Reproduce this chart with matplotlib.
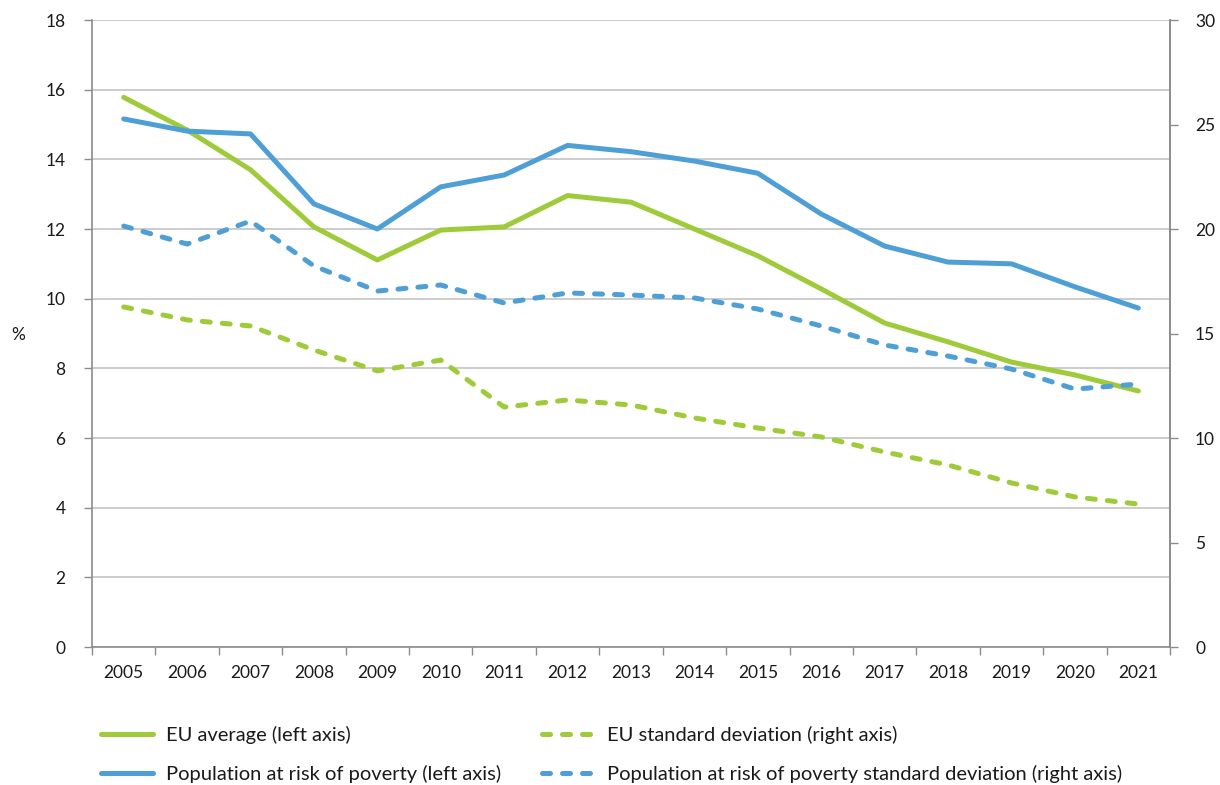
import matplotlib
matplotlib.use("Agg")
import matplotlib.pyplot as plt
import numpy as np

plt.rcParams['font.family'] = ['Lato', 'DejaVu Sans']

years = ["2005", "2006", "2007", "2008", "2009", "2010", "2011", "2012", "2013",
         "2014", "2015", "2016", "2017", "2018", "2019", "2020", "2021"]

# Left axis (%)
eu_average = [15.78, 14.84, 13.70, 12.06, 11.11, 11.97, 12.06, 12.96, 12.77,
              12.00, 11.23, 10.28, 9.30, 8.76, 8.18, 7.81, 7.35]
risk_poverty = [15.16, 14.81, 14.73, 12.72, 12.00, 13.21, 13.55, 14.40, 14.22,
                13.95, 13.60, 12.43, 11.51, 11.05, 11.00, 10.34, 9.73]

# Right axis (standard deviations)
eu_std = [16.27, 15.65, 15.36, 14.21, 13.21, 13.73, 11.48, 11.82, 11.58,
          10.96, 10.48, 10.05, 9.33, 8.71, 7.85, 7.18, 6.84]
risk_poverty_std = [20.14, 19.28, 20.38, 18.23, 17.03, 17.32, 16.46, 16.94, 16.84,
                    16.70, 16.17, 15.36, 14.45, 13.92, 13.30, 12.34, 12.58]

left_ticks = [0, 2, 4, 6, 8, 10, 12, 14, 16, 18]
right_ticks = [0, 5, 10, 15, 20, 25, 30]

GREEN = "#9fca3a"
BLUE = "#4f9fd7"
GRID = "#c4c4c4"
SPINE = "#8c8c8c"
TEXT = "#1a1a1a"
TICK_FS = 12.5
LEG_FS = 14.5

fig = plt.figure(figsize=(12.2, 7.85), dpi=100)
ax = fig.add_axes([92 / 1220, 1 - 647 / 785, (1170 - 92) / 1220, (647 - 20) / 785])
ax2 = ax.twinx()

x = np.arange(len(years))
lw = 3.6
dash = (1.6, 2.4)

l1, = ax.plot(x, eu_average, color=GREEN, lw=lw, solid_capstyle='round',
              solid_joinstyle='round', label="EU average (left axis)", zorder=3)
l2, = ax.plot(x, risk_poverty, color=BLUE, lw=lw, solid_capstyle='round',
              solid_joinstyle='round', label="Population at risk of poverty (left axis)", zorder=3)
l3, = ax2.plot(x, eu_std, color=GREEN, lw=lw, dashes=dash, dash_capstyle='round',
               dash_joinstyle='round', label="EU standard deviation (right axis)")
l4, = ax2.plot(x, risk_poverty_std, color=BLUE, lw=lw, dashes=dash, dash_capstyle='round',
               dash_joinstyle='round',
               label="Population at risk of poverty standard deviation (right axis)")

ax.set_xlim(-0.5, len(years) - 0.5)
ax.set_ylim(0, 18)
ax2.set_ylim(0, 30)

ax.set_yticks(left_ticks)
ax.set_yticklabels([str(t) for t in left_ticks])
ax2.set_yticks(right_ticks)
ax2.set_yticklabels([str(t) for t in right_ticks])

# Category ticks at boundaries, labels centered
ax.set_xticks(np.arange(-0.5, len(years), 1.0))
ax.set_xticklabels([])
ax.set_xticks(x, minor=True)
ax.set_xticklabels(years, minor=True)
ax.tick_params(axis='x', which='major', length=6, width=1, color=SPINE, direction='out')
ax.tick_params(axis='x', which='minor', length=0, pad=13, labelsize=TICK_FS, labelcolor=TEXT)
ax.tick_params(axis='y', length=6, width=1, color=SPINE, pad=13, labelsize=TICK_FS, labelcolor=TEXT)
ax2.tick_params(axis='y', length=6, width=1, color=SPINE, pad=12, labelsize=TICK_FS, labelcolor=TEXT)

ax.grid(axis='y', color=GRID, lw=1.2)
ax.set_axisbelow(True)

for a in (ax, ax2):
    a.spines['top'].set_visible(False)
    for s in ('left', 'right', 'bottom'):
        a.spines[s].set_color(SPINE)
        a.spines[s].set_linewidth(1.2)
ax2.spines['left'].set_visible(False)
ax2.spines['bottom'].set_visible(False)

fig.text(18 / 1220, 1 - 335 / 785, "%", fontsize=TICK_FS, color=TEXT, ha='center', va='center')

fig.legend(handles=[l1, l2, l3, l4], loc='upper left',
           bbox_to_anchor=(101 / 1220, 1 - 726 / 785), ncol=2, frameon=False,
           fontsize=LEG_FS, handlelength=2.6, handletextpad=0.65, columnspacing=2.0,
           labelspacing=1.03, borderpad=0, borderaxespad=0, labelcolor=TEXT)

fig.savefig("out.png", dpi=100, facecolor='white')
